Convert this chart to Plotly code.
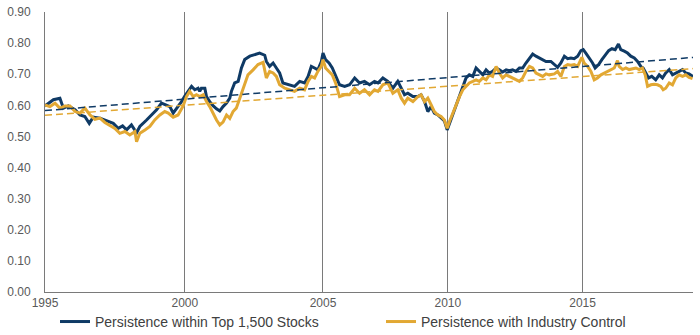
import plotly.graph_objects as go

# observation index (months since start of sample) and values
blue_x = [0.0, 3.6, 6.4, 7.9, 10.0, 12.9, 15.0, 17.1, 19.0, 20.7, 23.6, 26.4, 29.3, 31.4, 33.3, 35.0,
          37.1, 39.3, 40.7, 43.6, 45.7, 47.9, 50.0, 51.4, 53.6, 55.0, 57.1, 58.6, 60.0, 61.4, 62.9,
          64.3, 65.7, 66.4, 67.1, 68.6, 69.3, 70.7, 72.1, 73.6, 75.0, 76.4, 77.9, 79.3, 80.0, 81.4,
          82.9, 84.3, 85.7, 87.9, 90.0, 92.1, 94.3, 95.0, 96.4, 97.9, 99.3, 100.7, 102.1,
          105.0, 107.1, 109.3, 111.4, 112.9, 114.3, 115.7, 117.1, 118.6, 119.3, 120.4, 121.9, 123.3,
          124.7, 126.4, 128.6, 130.7, 132.9, 135.0, 137.1, 139.3, 141.4, 142.9, 145.0, 147.1, 149.3,
          151.4, 152.9, 154.3, 155.7, 157.9,
          160.0, 161.4, 162.9, 164.3, 165.7, 167.1, 168.6, 170.0, 171.4, 172.6, 173.6, 175.0, 176.4,
          177.9, 179.3, 180.7, 182.1, 183.6, 185.0, 186.4, 187.9, 189.3, 190.7, 192.1, 193.6, 195.0,
          196.4, 197.9, 199.3, 200.7, 202.1, 203.6, 205.0, 206.4, 207.9, 209.3, 210.7,
          212.1, 213.6, 215.0, 217.1, 218.6, 220.0, 221.4, 222.9, 224.3, 225.7, 227.1, 228.6, 230.0,
          231.0, 232.1, 233.6, 235.0, 236.1, 237.6, 239.0, 240.4, 241.9, 243.3, 244.7, 246.1, 247.1,
          248.6, 250.0, 251.4, 252.9, 254.3, 255.7, 256.7, 257.9, 259.0, 260.4, 262.1, 263.6, 265.0,
          266.4, 267.9, 269.3, 270.7, 272.1, 273.6, 275.0, 276.4, 278.1]
blue = [0.598, 0.618, 0.623, 0.591, 0.598, 0.586, 0.569, 0.564, 0.542, 0.562, 0.559, 0.551, 0.542, 0.526, 0.534, 0.521,
        0.537, 0.512, 0.532, 0.553, 0.569, 0.586, 0.607, 0.602, 0.596, 0.575, 0.596, 0.612, 0.630, 0.645, 0.661,
        0.650, 0.655, 0.645, 0.655, 0.655, 0.628, 0.612, 0.599, 0.589, 0.582, 0.596, 0.607, 0.623, 0.645, 0.672,
        0.677, 0.720, 0.747, 0.758, 0.763, 0.768, 0.761, 0.741, 0.725, 0.736, 0.720, 0.704, 0.672,
        0.666, 0.661, 0.677, 0.672, 0.693, 0.725, 0.720, 0.714, 0.741, 0.768, 0.747, 0.736, 0.720,
        0.693, 0.666, 0.661, 0.666, 0.688, 0.672, 0.677, 0.666, 0.677, 0.672, 0.688, 0.677, 0.655,
        0.677, 0.655, 0.634, 0.639, 0.628,
        0.628, 0.634, 0.612, 0.580, 0.596, 0.575, 0.569, 0.558, 0.550, 0.521, 0.542, 0.575, 0.602,
        0.634, 0.661, 0.688, 0.698, 0.693, 0.720, 0.709, 0.698, 0.714, 0.704, 0.709, 0.720, 0.714,
        0.707, 0.714, 0.711, 0.714, 0.709, 0.720, 0.720, 0.736, 0.752, 0.765, 0.758,
        0.752, 0.747, 0.741, 0.741, 0.731, 0.722, 0.736, 0.758, 0.750, 0.752, 0.750, 0.758, 0.776,
        0.779, 0.768, 0.752, 0.736, 0.720, 0.731, 0.747, 0.763, 0.776, 0.782, 0.779, 0.797, 0.779,
        0.774, 0.768, 0.758, 0.752, 0.741, 0.725, 0.720, 0.704, 0.688, 0.693, 0.682, 0.698, 0.688,
        0.704, 0.715, 0.698, 0.704, 0.709, 0.715, 0.704, 0.701, 0.693]

gold_x = [0.0, 2.1, 4.3, 6.4, 8.6, 10.7, 12.9, 15.0, 17.1, 19.3, 21.4, 23.6, 25.7, 27.9, 30.0, 32.1,
          34.3, 36.4, 38.6, 39.3, 40.7, 42.9, 45.0, 47.1, 49.3, 51.4, 52.9, 55.0, 57.1, 59.3,
          60.7, 62.1, 63.6, 65.0, 66.4, 67.9, 69.3, 70.7, 72.1, 73.6, 75.0, 76.4, 77.9, 79.3, 80.7,
          82.1, 83.6, 85.0, 87.1, 89.3, 91.4, 93.6, 95.0, 96.4, 97.9, 99.3, 100.7, 102.9,
          105.0, 107.1, 109.3, 111.4, 112.9, 114.3, 115.7, 117.1, 118.6, 119.3, 120.4, 121.9, 123.3,
          124.7, 126.4, 128.6, 130.7, 132.9, 135.0, 137.1, 139.3, 141.4, 142.9, 145.0, 147.1, 149.3,
          151.4, 152.9, 154.3, 155.7, 157.9,
          160.0, 161.4, 162.9, 164.3, 165.7, 167.1, 168.6, 170.0, 171.4, 172.6, 173.6, 175.0, 176.4,
          177.9, 179.3, 180.7, 182.1, 183.6, 185.0, 186.4, 187.9, 189.3, 190.7, 192.1, 193.6, 195.0,
          196.4, 197.9, 199.3, 200.7, 202.1, 203.6, 205.0, 206.4, 207.9, 209.3, 210.7,
          212.1, 213.6, 215.0, 216.4, 218.6, 220.0, 221.4, 222.9, 224.3, 225.7, 227.1, 228.6, 230.4,
          231.4, 232.9, 234.3, 235.7, 237.1, 238.6, 240.0, 241.4, 242.9, 244.3, 245.7, 246.4, 247.9,
          249.3, 250.7, 252.1, 253.6, 255.0, 256.4, 257.6, 258.6, 260.0, 261.4, 262.9, 264.3, 265.3,
          266.4, 267.9, 269.3, 270.7, 272.1, 273.6, 275.0, 276.4, 277.9]
gold = [0.601, 0.596, 0.607, 0.591, 0.598, 0.598, 0.580, 0.575, 0.591, 0.569, 0.555, 0.559, 0.545, 0.534, 0.526, 0.510,
        0.516, 0.505, 0.516, 0.483, 0.510, 0.521, 0.532, 0.553, 0.569, 0.580, 0.575, 0.562, 0.569, 0.598,
        0.628, 0.645, 0.628, 0.634, 0.628, 0.634, 0.612, 0.596, 0.575, 0.553, 0.537, 0.546, 0.569, 0.558, 0.580,
        0.591, 0.623, 0.655, 0.698, 0.714, 0.731, 0.738, 0.688, 0.709, 0.704, 0.693, 0.666, 0.655,
        0.650, 0.645, 0.655, 0.650, 0.677, 0.693, 0.688, 0.709, 0.725, 0.747, 0.720, 0.709, 0.698,
        0.672, 0.628, 0.634, 0.634, 0.655, 0.639, 0.650, 0.634, 0.650, 0.645, 0.666, 0.672, 0.639,
        0.650, 0.623, 0.607, 0.623, 0.612,
        0.628, 0.634, 0.612, 0.623, 0.602, 0.580, 0.569, 0.564, 0.553, 0.526, 0.548, 0.575, 0.596,
        0.628, 0.650, 0.661, 0.672, 0.677, 0.682, 0.677, 0.688, 0.682, 0.698, 0.693, 0.725, 0.704,
        0.688, 0.698, 0.693, 0.688, 0.682, 0.677, 0.688, 0.709, 0.725, 0.720, 0.704,
        0.698, 0.693, 0.701, 0.698, 0.701, 0.709, 0.693, 0.725, 0.731, 0.729, 0.731, 0.725, 0.754,
        0.736, 0.725, 0.709, 0.682, 0.688, 0.698, 0.704, 0.709, 0.715, 0.720, 0.744, 0.725, 0.715,
        0.720, 0.715, 0.717, 0.720, 0.715, 0.720, 0.698, 0.661, 0.666, 0.668, 0.666, 0.661, 0.650,
        0.655, 0.672, 0.666, 0.688, 0.698, 0.693, 0.698, 0.690, 0.686]

# linear trend lines (start / end values)
trend_x = [0.0, 278.1]
trend_blue = [0.583, 0.754]
trend_gold = [0.568, 0.718]

tick_pos = [0, 60, 119.3, 172.9, 230.7]
tick_labels = ["1995", "2000", "2005", "2010", "2015"]

series_names = ["Persistence within Top 1,500 Stocks", "Persistence with Industry Control"]

BLUE = "#0f3a65"
GOLD = "#e2a833"
FONT = "Liberation Sans, Arial, sans-serif"

fig = go.Figure()
fig.add_trace(go.Scatter(x=blue_x, y=blue, mode="lines", name=series_names[0], legend="legend",
                         line=dict(color=BLUE, width=3)))
fig.add_trace(go.Scatter(x=gold_x, y=gold, mode="lines", name=series_names[1], legend="legend2",
                         line=dict(color=GOLD, width=3)))
fig.add_trace(go.Scatter(x=trend_x, y=trend_blue, mode="lines", showlegend=False,
                         line=dict(color=BLUE, width=1.5, dash="7px,4px")))
fig.add_trace(go.Scatter(x=trend_x, y=trend_gold, mode="lines", showlegend=False,
                         line=dict(color=GOLD, width=1.5, dash="7px,4px")))

legend_style = dict(orientation="h", xref="container", yref="container", xanchor="left",
                    yanchor="middle", y=0.039, font=dict(size=14, color="#404040"),
                    itemwidth=30, bgcolor="rgba(0,0,0,0)")

fig.update_layout(
    width=700, height=335,
    margin=dict(l=45, r=7, t=12, b=43, autoexpand=False),
    paper_bgcolor="white", plot_bgcolor="white",
    font=dict(family=FONT, size=12, color="#595959"),
    showlegend=True,
    legend=dict(x=55 / 700, **legend_style),
    legend2=dict(x=381 / 700, **legend_style),
    xaxis=dict(range=[0, 278.1], tickmode="array", tickvals=tick_pos, ticktext=tick_labels,
               showgrid=True, gridcolor="#7a7a7a", gridwidth=1,
               showline=True, linecolor="#7a7a7a", linewidth=1,
               zeroline=False, ticks="", tickfont=dict(size=12, color="#595959")),
    yaxis=dict(range=[0, 0.9], dtick=0.1, tick0=0, tickformat=".2f",
               showgrid=False, zeroline=False, showline=True, linecolor="#7a7a7a", linewidth=1,
               ticks="", ticklabelstandoff=11, tickfont=dict(size=12, color="#595959")),
)

fig.write_html("out.html")
